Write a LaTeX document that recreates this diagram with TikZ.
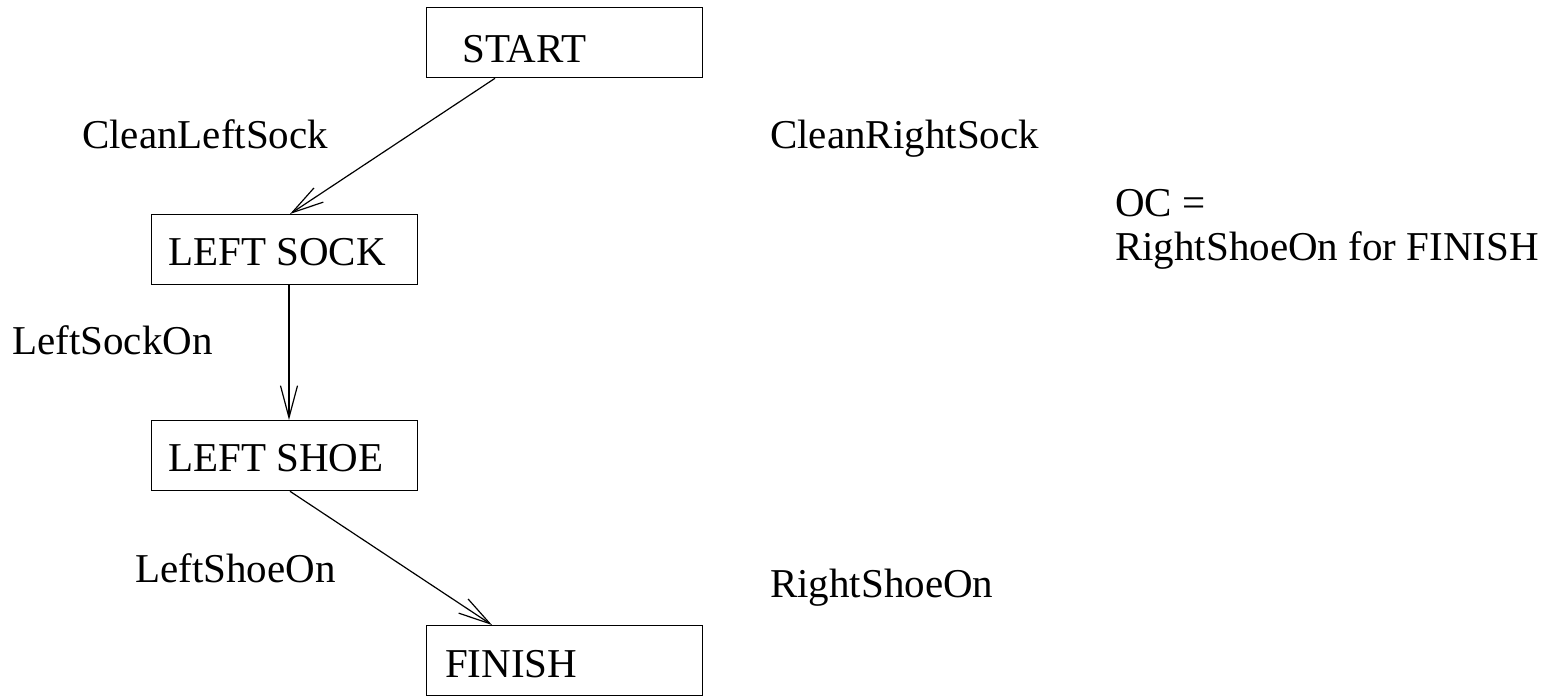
\documentclass[tikz,border=0pt]{standalone}
\usepackage{fontspec}
\setmainfont{Liberation Serif}
\usetikzlibrary{arrows.meta}
\begin{document}
\begin{tikzpicture}[x=1pt,y=-1pt,
  every node/.style={font=\fontsize{41}{44}\selectfont},
  box/.style={draw, line width=1.3pt, minimum height=70pt, inner sep=0pt, anchor=north west},
  txt/.style={inner sep=0pt, anchor=base west},
  arr/.style={line width=1.2pt, -{Straight Barb[length=32pt,width=17pt,line width=1.2pt]}}]
\useasboundingbox (0,0) rectangle (1551,697);

% boxes
\node[box, minimum width=276pt] (start)  at (426,7)   {};
\node[box, minimum width=266pt] (lsock)  at (151,214) {};
\node[box, minimum width=266pt] (lshoe)  at (151,420) {};
\node[box, minimum width=276pt] (finish) at (426,625) {};

% box titles
\node[txt] (tstart)  at (462,62)  {START};
\node[txt] (tlsock)  at (168,265) {LEFT SOCK};
\node[txt] (tlshoe)  at (168,471) {LEFT SHOE};
\node[txt] (tfinish) at (445,677) {FINISH};

% conditions
\node[txt] (cls)  at (82,148)   {CleanLeftSock};
\node[txt] (crs)  at (770,148)  {CleanRightSock};
\node[txt] (lso)  at (12,354)   {LeftSockOn};
\node[txt] (lsho) at (135,582)  {LeftShoeOn};
\node[txt] (rsho) at (770,597)  {RightShoeOn};
\node[txt] (oc1)  at (1115,216) {OC =};
\node[txt] (oc2)  at (1115,260) {RightShoeOn for FINISH};

% ordering links
\draw[arr] ([xshift=69pt]start.south west) -- ([xshift=139pt]lsock.north west);
\draw[arr] ([xshift=138pt]lsock.south west) -- ([xshift=138pt]lshoe.north west);
\draw[arr] ([xshift=139pt]lshoe.south west) -- ([xshift=66pt]finish.north west);
\end{tikzpicture}
\end{document}
